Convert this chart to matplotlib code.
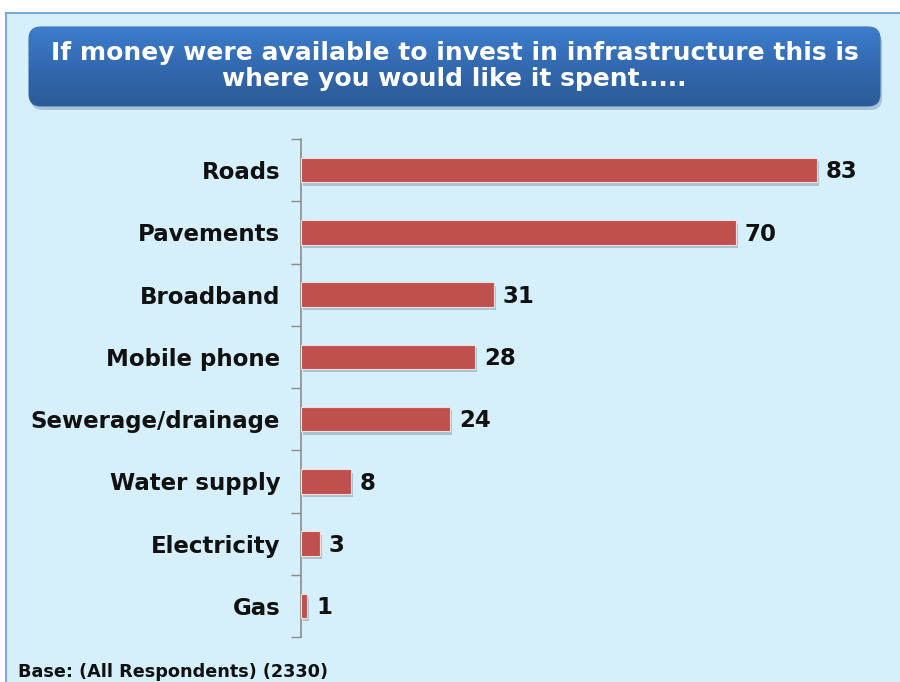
"""Infrastructure spending preferences, horizontal bar chart."""
import matplotlib
matplotlib.use("Agg")

import matplotlib.pyplot as plt
import matplotlib.patheffects as pe
import numpy as np
from matplotlib.patches import FancyBboxPatch, Rectangle

categories = ["Roads", "Pavements", "Broadband", "Mobile phone",
              "Sewerage/drainage", "Water supply", "Electricity", "Gas"]
values = [83, 70, 31, 28, 24, 8, 3, 1]

TITLE = ("If money were available to invest in infrastructure this is\n"
         "where you would like it spent.....")
FOOTER = "Base: (All Respondents) (2330)"

_BAR = "#c0504d"
_PANEL = "#d5f0fa"
_BORDER = "#7ea6d6"
W, H = 900, 682

fig = plt.figure(figsize=(W / 100, H / 100), dpi=100, facecolor="white")

# light blue panel with blue left/top border
bg = fig.add_axes([0, 0, 1, 1], zorder=0)
bg.set_xlim(0, W)
bg.set_ylim(H, 0)
bg.axis("off")
bg.add_patch(Rectangle((6, 13), W, H, facecolor=_PANEL, edgecolor="none"))
bg.plot([6, 6], [13, H], color=_BORDER, lw=1.5)
bg.plot([6, W], [13, 13], color=_BORDER, lw=1.5)

# title box: rounded, vertical blue gradient, soft shadow
x0, y0, x1, y1 = 29, 27, 880, 106
shadow = FancyBboxPatch((x0 + 2, y0 + 4), x1 - x0, y1 - y0,
                        boxstyle="round,pad=0,rounding_size=12",
                        facecolor="#8aa4bf", edgecolor="none", alpha=0.6)
bg.add_patch(shadow)
box = FancyBboxPatch((x0, y0), x1 - x0, y1 - y0,
                     boxstyle="round,pad=0,rounding_size=12",
                     facecolor="none", edgecolor="#3a70b8", lw=0.8)
bg.add_patch(box)
grad = np.linspace(0, 1, 256).reshape(-1, 1)
cmap = matplotlib.colors.LinearSegmentedColormap.from_list(
    "title", ["#3c7dcc", "#3369b0", "#2c5b97"])
im = bg.imshow(grad, cmap=cmap, extent=(x0, x1, y1, y0), aspect="auto",
               zorder=1)
im.set_clip_path(box)
bg.text((x0 + x1) / 2, 66, TITLE, ha="center", va="center", color="white",
        fontsize=18, fontweight="bold", linespacing=1.15, zorder=3)
bg.text(18, 672, FOOTER, ha="left", va="center", fontsize=12.7,
        fontweight="bold", color="#111111")

# bar chart
ax = fig.add_axes([301 / W, 1 - 637 / H, 599 / W, 498 / H], zorder=2)
ax.patch.set_visible(False)
y = np.arange(len(categories))
bars = ax.barh(y, values, height=0.39, color=_BAR, edgecolor="#f3dede",
               linewidth=0.8, zorder=3)
for b in bars:
    b.set_path_effects([pe.SimplePatchShadow(offset=(1.5, -2.5),
                                             shadow_rgbFace="#7d97a8",
                                             alpha=0.5), pe.Normal()])
for i, v in enumerate(values):
    ax.text(v + 1.4, i + 0.03, f"{v}", va="center", ha="left", fontsize=16.5,
            fontweight="bold", color="#111111")

ax.set_xlim(0, 599 / 6.217)
ax.set_ylim(len(categories) - 0.5, -0.5)
ax.set_xticks([])
ax.set_yticks(np.arange(len(categories) + 1) - 0.5)
ax.set_yticklabels([])
ax.tick_params(axis="y", which="major", length=7, color="#8c8c8c", width=1)
ax.set_yticks(y, minor=True)
ax.set_yticklabels(categories, minor=True, fontsize=16.5, fontweight="bold",
                   color="#111111")
ax.tick_params(axis="y", which="minor", length=0, pad=15)
for s in ("top", "right", "bottom"):
    ax.spines[s].set_visible(False)
ax.spines["left"].set_color("#8c8c8c")
ax.spines["left"].set_linewidth(1.2)

fig.savefig("out.png", dpi=100, facecolor="white")
